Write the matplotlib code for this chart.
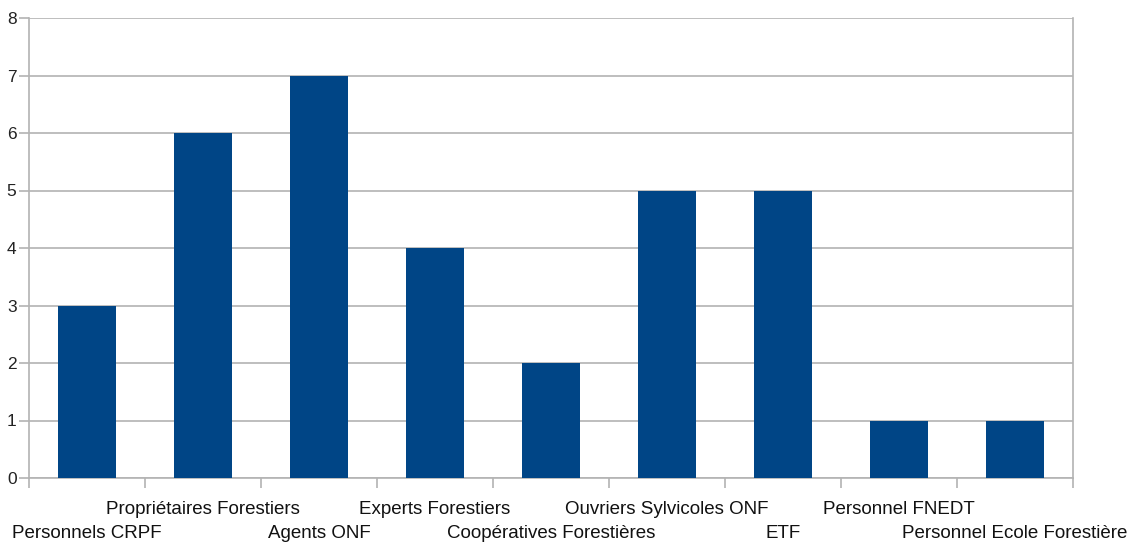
import matplotlib
matplotlib.use('Agg')
import numpy as np
from matplotlib import pyplot as plt

categories = ['Personnels CRPF', 'Propriétaires Forestiers', 'Agents ONF',
              'Experts Forestiers', 'Coopératives Forestières',
              'Ouvriers Sylvicoles ONF', 'ETF', 'Personnel FNEDT',
              'Personnel Ecole Forestière']
values = [3, 6, 7, 4, 2, 5, 5, 1, 1]

plt.rcParams['font.family'] = ['Liberation Sans Narrow', 'Liberation Sans', 'DejaVu Sans']

fig = plt.figure(figsize=(11.27, 5.44), dpi=100)
ax = fig.add_axes([29/1127, 66/544, (1073-29)/1127, (478-18)/544])

grey = '#b3b3b3'
x = np.arange(len(categories))
ax.bar(x, values, width=0.5, color='#004586', zorder=3)

ax.set_xlim(-0.5, len(categories) - 0.5)
ax.set_ylim(0, 8)
ax.set_yticks(range(0, 9))
ax.yaxis.grid(True, color=grey, linewidth=1.2, zorder=0)

# tick marks between categories, labels staggered on two rows
ax.set_xticks(np.arange(-0.5, len(categories)))
ax.set_xticklabels([])
ax.tick_params(axis='x', length=7, color=grey, width=1.2)
ax.tick_params(axis='y', length=7, color=grey, width=1.2, labelsize=12.5, pad=2,
               labelcolor='#222222')
for i, lab in enumerate(categories):
    y_off = -0.05 if i % 2 == 1 else -0.103
    ax.text(i, y_off, lab, transform=ax.get_xaxis_transform(), ha='center',
            va='top', fontsize=13.5, color='#111111')

for s in ['left', 'bottom', 'right']:
    ax.spines[s].set_color(grey)
    ax.spines[s].set_linewidth(1.2)
ax.spines['top'].set_visible(False)

fig.savefig('out.png', dpi=100)
